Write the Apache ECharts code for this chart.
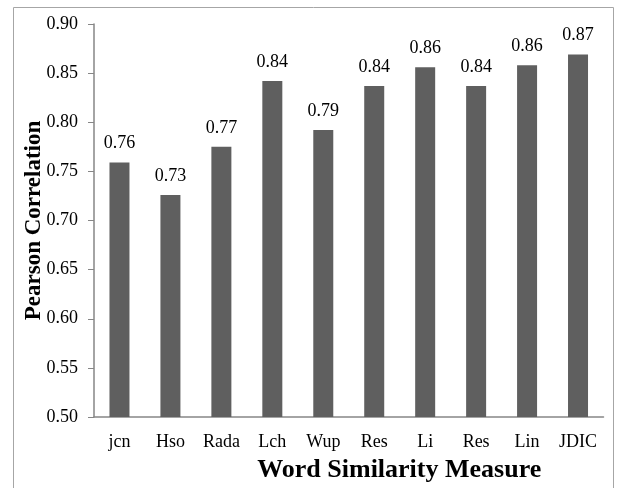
<!DOCTYPE html>
<html>
<head>
<meta charset="utf-8">
<script src="https://cdn.jsdelivr.net/npm/echarts@6/dist/echarts.min.js"></script>
<style>
html,body{margin:0;padding:0;background:#fff;}
#chart{width:617px;height:488px;}
</style>
</head>
<body>
<div id="chart"></div>
<script>
var categories = ['jcn','Hso','Rada','Lch','Wup','Res','Li','Res','Lin','JDIC'];
var values = [0.759, 0.726, 0.775, 0.842, 0.792, 0.837, 0.856, 0.837, 0.858, 0.869];
var valueLabels = ['0.76','0.73','0.77','0.84','0.79','0.84','0.86','0.84','0.86','0.87'];
var yMin = 0.50, yMax = 0.90, yStep = 0.05;
var xTitle = 'Word Similarity Measure';
var yTitle = 'Pearson Correlation';

var FONT = '"Liberation Serif","Times New Roman",serif';
var chart = echarts.init(document.getElementById('chart'), null, {renderer:'canvas'});
chart.setOption({
  animation: false,
  backgroundColor: '#fff',
  graphic: [{
    type: 'rect',
    shape: {x: 13.5, y: 7.5, width: 600, height: 500},
    style: {fill: 'none', stroke: '#a6a6a6', lineWidth: 1},
    silent: true, z: -1
  }],
  grid: {left: 94, right: 13.5, top: 24, bottom: 68, containLabel: false},
  xAxis: {
    type: 'category',
    data: categories,
    axisLine: {show: true, lineStyle: {color: '#868686', width: 1.5}},
    axisTick: {show: false},
    axisLabel: {color: '#000', fontFamily: FONT, fontSize: 18, margin: 16, interval: 0},
    name: xTitle,
    nameLocation: 'middle',
    nameMoveOverlap: false,
    nameGap: 40,
    nameTextStyle: {color: '#000', fontFamily: FONT, fontSize: 26, fontWeight: 'bold', padding: [0, 0, 0, 101]}
  },
  yAxis: {
    type: 'value',
    min: yMin, max: yMax, interval: yStep,
    splitLine: {show: false},
    axisLine: {show: true, lineStyle: {color: '#868686', width: 1.5}},
    axisTick: {show: true, length: 6, lineStyle: {color: '#868686'}},
    axisLabel: {color: '#000', fontFamily: FONT, fontSize: 18, margin: 16,
      formatter: function(v){ return v.toFixed(2); }},
    name: yTitle,
    nameLocation: 'middle',
    nameMoveOverlap: false,
    nameGap: 48,
    nameTextStyle: {color: '#000', fontFamily: FONT, fontSize: 23, fontWeight: 'bold'}
  },
  series: [{
    type: 'bar',
    data: values,
    barWidth: 20,
    itemStyle: {color: '#5f5f5f'},
    label: {
      show: true, position: 'top', distance: 10,
      color: '#000', fontFamily: FONT, fontSize: 18,
      formatter: function(p){ return valueLabels[p.dataIndex]; }
    }
  }]
});
</script>
</body>
</html>
